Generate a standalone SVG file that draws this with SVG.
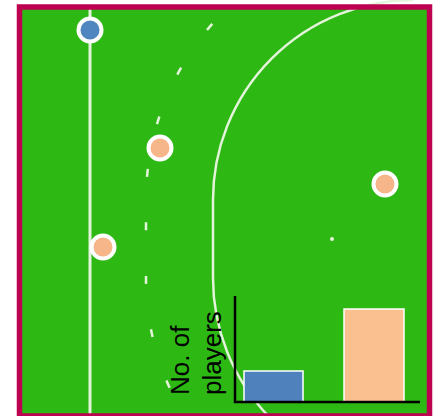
<svg xmlns="http://www.w3.org/2000/svg" width="436" height="416" viewBox="0 0 436 416">
  <style>
    .pitch { fill: none; stroke: #E4F4DA; }
    .player { stroke: #FFFFFF; stroke-width: 4; }
    .blue { fill: #4F86C0; }
    .orange { fill: #F6B68A; }
    .bar { stroke: #FFFFFF; stroke-width: 1.5; }
    .axis { stroke: #000000; stroke-width: 2.5; fill: none; }
    .label { font-family: "Liberation Sans", Arial, sans-serif; font-size: 26px; fill: #000000; }
  </style>
  <rect x="0" y="0" width="436" height="416" fill="#FFFFFF"/>
  <rect id="field" x="19.5" y="7" width="410" height="409" fill="#2DB814"/>
  <g id="lines">
    <line class="pitch" x1="90" y1="7" x2="90" y2="416" stroke-width="3"/>
    <path class="pitch" stroke-width="2.5" d="M 413 0 A 200 200 0 0 0 213 200 L 213 278 A 200 200 0 0 0 413 478"/>
    <path class="pitch" stroke-width="2.5" stroke-dasharray="8 45.6" stroke-dashoffset="4" d="M 248.2 -10.1 A 267 267 0 0 0 146 200 L 146 278 A 267 267 0 0 0 224.2 466.8"/>
    <circle cx="332" cy="239" r="2" fill="#E4F4DA"/>
  </g>
  <rect id="border" x="19.5" y="7" width="410" height="409" fill="none" stroke="#BD0050" stroke-width="5.5"/>
  <g id="player-blue-1"><circle class="player blue" cx="90" cy="30" r="11.5"/></g>
  <g id="player-orange-1"><circle class="player orange" cx="160" cy="148" r="11.5"/></g>
  <g id="player-orange-2"><circle class="player orange" cx="103" cy="247" r="11.5"/></g>
  <g id="player-orange-3"><circle class="player orange" cx="385" cy="184" r="11.5"/></g>
  <g id="chart">
    <rect class="bar" x="244" y="371" width="59" height="31" fill="#4F81BD"/>
    <rect class="bar" x="344" y="309" width="60" height="93" fill="#FAC090"/>
    <path class="axis" d="M 235 296 L 235 402 L 420 402"/>
    <text class="label" transform="translate(189,395) rotate(-90)">No. of</text>
    <text class="label" transform="translate(221,395) rotate(-90)">players</text>
  </g>
</svg>
